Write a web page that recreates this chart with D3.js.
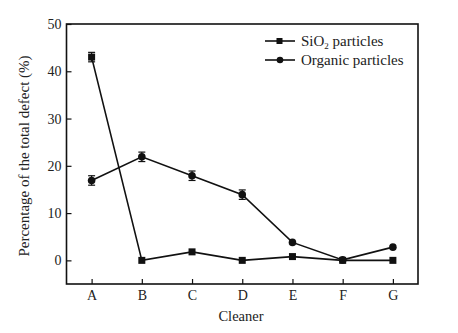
<!DOCTYPE html>
<html><head><meta charset="utf-8">
<script src="https://cdn.jsdelivr.net/npm/d3@7"></script>
<style>body{margin:0;background:#fff}</style>
</head><body>
<script>
const categories = ["A","B","C","D","E","F","G"];
const sio2 = [43.0, 0.0, 1.8, 0.0, 0.8, 0.0, 0.0];
const sio2Err = [1.0, 0.3, 0.3, 0.3, 0.3, 0.3, 0.3];
const organic = [16.9, 21.9, 17.9, 13.9, 3.8, 0.1, 2.8];
const organicErr = [1.0, 1.0, 1.0, 1.0, 0.3, 0.3, 0.3];
const yTicks = [0, 10, 20, 30, 40, 50];

const W = 458, H = 333;
const m = {left: 66.5, right: 418, top: 24, bottom: 284};
const svg = d3.select("body").append("svg").attr("width", W).attr("height", H)
  .style("font-family", "'Liberation Serif', 'Times New Roman', serif");

const x = d3.scalePoint().domain(categories).range([m.left, m.right]).padding(0.5);
const y = d3.scaleLinear().domain([-5, 50]).range([m.bottom, m.top]);

// frame
svg.append("rect").attr("x", m.left).attr("y", m.top)
  .attr("width", m.right - m.left).attr("height", m.bottom - m.top)
  .attr("fill", "none").attr("stroke", "#111").attr("stroke-width", 1.6);

// axes
const yAxis = svg.append("g").attr("transform", `translate(${m.left},0)`)
  .call(d3.axisLeft(y).tickValues(yTicks).tickSizeInner(-5).tickSizeOuter(0).tickPadding(5));
const xAxis = svg.append("g").attr("transform", `translate(0,${m.bottom})`)
  .call(d3.axisBottom(x).tickSizeInner(-5).tickSizeOuter(0).tickPadding(6));
[yAxis, xAxis].forEach(g => {
  g.select(".domain").remove();
  g.selectAll("line").attr("stroke", "#111").attr("stroke-width", 1.2);
  g.selectAll("text").attr("fill", "#222").style("font-size", "14px")
    .style("font-family", "'Liberation Serif', serif");
});

// axis titles
svg.append("text").attr("x", 241).attr("y", 321).attr("text-anchor", "middle")
  .style("font-size", "14.5px").attr("fill", "#222").text("Cleaner");
svg.append("text").attr("transform", `translate(29,${(m.top+m.bottom)/2 + 2}) rotate(-90)`)
  .attr("text-anchor", "middle").style("font-size", "15px").attr("fill", "#222")
  .text("Percentage of the total defect (%)");

const line = d3.line().x((d, i) => x(categories[i])).y(d => y(d));

function drawSeries(vals, errs, shape) {
  svg.append("path").datum(vals).attr("d", line).attr("fill", "none")
    .attr("stroke", "#111").attr("stroke-width", 1.6);
  const g = svg.append("g");
  vals.forEach((v, i) => {
    const cx = x(categories[i]);
    const e = errs[i];
    if (e > 0.5) {
      g.append("line").attr("x1", cx).attr("x2", cx).attr("y1", y(v + e)).attr("y2", y(v - e))
        .attr("stroke", "#111").attr("stroke-width", 1.2);
      [v + e, v - e].forEach(t => g.append("line").attr("x1", cx - 3.5).attr("x2", cx + 3.5)
        .attr("y1", y(t)).attr("y2", y(t)).attr("stroke", "#111").attr("stroke-width", 1.2));
    }
    if (shape === "square") {
      g.append("rect").attr("x", cx - 3.5).attr("y", y(v) - 3.5).attr("width", 7).attr("height", 7).attr("fill", "#111");
    } else {
      g.append("circle").attr("cx", cx).attr("cy", y(v)).attr("r", 3.8).attr("fill", "#111");
    }
  });
}
drawSeries(sio2, sio2Err, "square");
drawSeries(organic, organicErr, "circle");

// legend
const leg = svg.append("g");
const rows = [{shape: "square", y: 41}, {shape: "circle", y: 60}];
rows.forEach(r => {
  leg.append("line").attr("x1", 265).attr("x2", 295).attr("y1", r.y).attr("y2", r.y)
    .attr("stroke", "#111").attr("stroke-width", 1.6);
  if (r.shape === "square") leg.append("rect").attr("x", 276.5).attr("y", r.y - 3).attr("width", 6).attr("height", 6).attr("fill", "#111");
  else leg.append("circle").attr("cx", 280).attr("cy", r.y).attr("r", 3.3).attr("fill", "#111");
});
const t1 = leg.append("text").attr("x", 301).attr("y", 45.5).style("font-size", "15px").attr("fill", "#222");
t1.append("tspan").text("SiO");
t1.append("tspan").attr("dy", 3).style("font-size", "9px").text("2");
t1.append("tspan").attr("dy", -3).text(" particles");
leg.append("text").attr("x", 301).attr("y", 64.5).style("font-size", "15px").attr("fill", "#222")
  .text("Organic particles");
</script>
</body></html>
